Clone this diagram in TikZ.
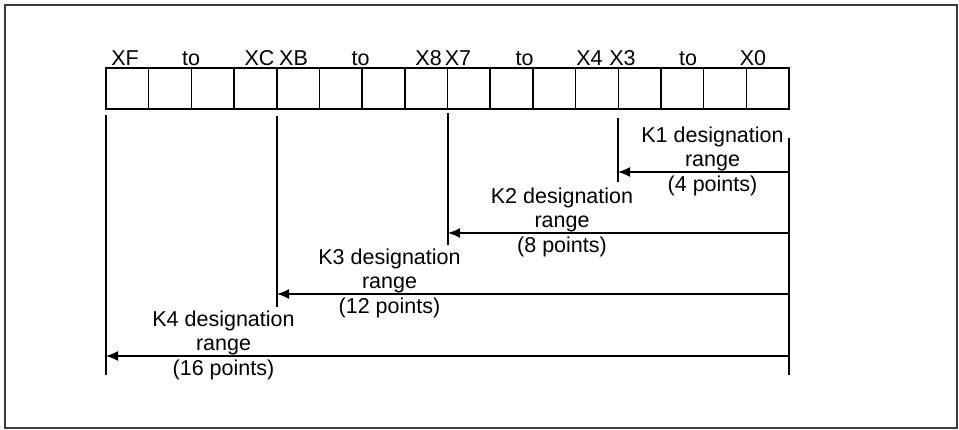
\documentclass[tikz,border=0pt]{standalone}
\usepackage{fontspec}
\setmainfont{Liberation Sans}
\usetikzlibrary{arrows.meta, positioning}
\definecolor{framegray}{RGB}{60,60,60}

\begin{document}
\begin{tikzpicture}[
    x=1pt, y=-1pt,
    font=\fontsize{21.5}{24.5}\selectfont,
    >={Latex[length=12pt,width=10pt]},
    cell/.style={draw, line width=1.5pt, minimum width=\cellW pt,
        minimum height=41pt, inner sep=0pt, outer sep=0pt, anchor=north west},
    bitlabel/.style={anchor=base, inner sep=0pt},
    rangelabel/.style={align=center, inner sep=0pt},
    guide/.style={line width=1.5pt},
    rangearrow/.style={->, line width=1.5pt}
]

% ============================================================
% Global dimensions
% ============================================================
\def\cellW{42.69}
\def\regX{106}
\def\regY{68}

\useasboundingbox (0,0) rectangle (959,430);

% Outer frame
\draw[framegray, line width=1.5pt] (5,5) rectangle (957,428);

% ============================================================
% REGISTER: 16 bits
% ============================================================
\foreach \i in {0,...,15} {
    \node[cell] (cell\i) at ({\regX+\i*\cellW},\regY) {};
}

% Bit labels
\node[bitlabel] (lXF)  at (125,65.5)   {XF};
\node[bitlabel] (lto1) at (191,65.5)   {to};
\node[bitlabel] (lXC)  at (259.5,65.5) {XC};
\node[bitlabel] (lXB)  at (293.5,65.5) {XB};
\node[bitlabel] (lto2) at (360.5,65.5) {to};
\node[bitlabel] (lX8)  at (428.6,65.5) {X8};
\node[bitlabel] (lX7)  at (458,65.5)   {X7};
\node[bitlabel] (lto3) at (524.5,65.5) {to};
\node[bitlabel] (lX4)  at (589.5,65.5) {X4};
\node[bitlabel] (lX3)  at (622.5,65.5) {X3};
\node[bitlabel] (lto4) at (688,65.5)   {to};
\node[bitlabel] (lX0)  at (753,65.5)   {X0};

% ============================================================
% Range limits
% ============================================================
\coordinate (kFtop) at (106,115);   \coordinate (kFbot) at (106,375);
\coordinate (kBtop) at (277,116);   \coordinate (kBbot) at (277,307.5);
\coordinate (k7top) at (448,113.5); \coordinate (k7bot) at (448,245);
\coordinate (k3top) at (618,118);   \coordinate (k3bot) at (618,182.5);
\coordinate (k0top) at (789,138);   \coordinate (k0bot) at (789,375);

\draw[guide] (kFtop) -- (kFbot);
\draw[guide] (kBtop) -- (kBbot);
\draw[guide] (k7top) -- (k7bot);
\draw[guide] (k3top) -- (k3bot);
\draw[guide] (k0top) -- (k0bot);

% Range arrows
\coordinate (r1) at (789,172); \coordinate (e1) at (618,172);
\coordinate (r2) at (789,233); \coordinate (e2) at (448,233);
\coordinate (r3) at (789,294); \coordinate (e3) at (277,294);
\coordinate (r4) at (789,356); \coordinate (e4) at (106,356);

\draw[rangearrow] (r1) -- (e1);
\draw[rangearrow] (r2) -- (e2);
\draw[rangearrow] (r3) -- (e3);
\draw[rangearrow] (r4) -- (e4);

% Range texts
\node[rangelabel] (k1) at (712.5,161)   {K1 designation\\range\\(4 points)};
\node[rangelabel] (k2) at (562,222.3)   {K2 designation\\range\\(8 points)};
\node[rangelabel] (k3) at (389.5,283.3) {K3 designation\\range\\(12 points)};
\node[rangelabel] (k4) at (223.5,345)   {K4 designation\\range\\(16 points)};

\end{tikzpicture}
\end{document}
